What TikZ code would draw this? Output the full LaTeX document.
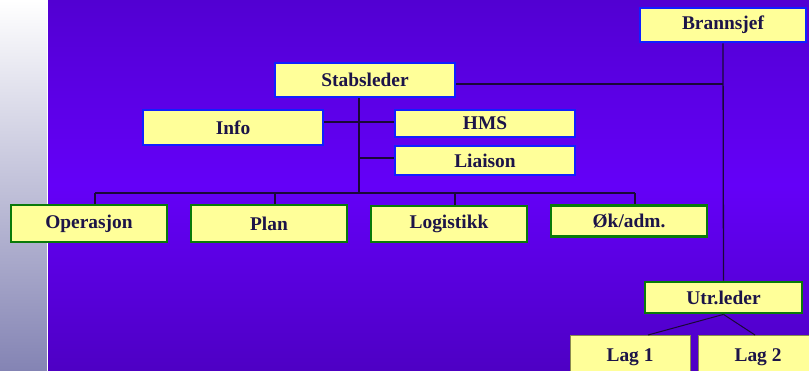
\documentclass[tikz,border=0pt]{standalone}
\usepackage{fontspec}
\setmainfont{Liberation Serif}
\usetikzlibrary{calc}
\definecolor{bgtop}{HTML}{5200D2}
\definecolor{bgmid}{HTML}{6400F8}
\definecolor{bgbot}{HTML}{4E00C4}
\definecolor{striptop}{HTML}{FFFFFF}
\definecolor{stripbot}{HTML}{8484B4}
\definecolor{boxfill}{HTML}{FFFF99}
\definecolor{bluebd}{HTML}{1020FF}
\definecolor{greenbd}{HTML}{0A7A0A}
\definecolor{lagbd}{HTML}{8A8A50}
\definecolor{txt}{HTML}{1C1448}
\definecolor{wire}{HTML}{1A0838}
\tikzset{
  x=1bp, y=-1bp,
  base/.style={rectangle, fill=boxfill, text=txt, inner sep=0pt,
    font=\fontsize{19.4bp}{22bp}\selectfont\bfseries},
  bluebox/.style={base, draw=bluebd, line width=2.6bp},
  greenbox/.style={base, draw=greenbd, line width=2.8bp},
  lagbox/.style={base, draw=lagbd, line width=1bp},
  wirestyle/.style={draw=wire, line width=1.3bp},
}
\begin{document}
\begin{tikzpicture}
\useasboundingbox (0,0) rectangle (809,370);
\clip (0,0) rectangle (809,370);
% background
\shade[top color=striptop, bottom color=stripbot] (0,0) rectangle (47,370);
\shade[top color=bgtop, bottom color=bgmid] (48,0) rectangle (809,185);
\shade[top color=bgmid, bottom color=bgbot] (48,185) rectangle (809,370);
\fill[white] (46.5,0) rectangle (48,370);

% nodes
\node[bluebox, minimum width=166bp, minimum height=34bp] (bran) at (723,25) {Brannsjef};
\node[bluebox, minimum width=180bp, minimum height=34bp] (stab) at (365,80) {Stabsleder};
\node[bluebox, minimum width=180bp, minimum height=35bp] (info) at (233,127.5) {Info};
\node[bluebox, minimum width=180bp, minimum height=27bp] (hms) at (485,123.5) {HMS};
\node[bluebox, minimum width=180bp, minimum height=29bp] (liai) at (485,160.5) {Liaison};
\node[greenbox, minimum width=156bp, minimum height=37bp] (oper) at (89,223.5) {Operasjon};
\node[greenbox, minimum width=156bp, minimum height=37bp] (plan) at (269,223.5) {Plan};
\node[greenbox, minimum width=156bp, minimum height=36bp] (logi) at (449,224) {Logistikk};
\node[greenbox, minimum width=156bp, minimum height=31bp] (okad) at (629,221) {Øk/adm.};
\node[greenbox, minimum width=157bp, minimum height=31bp] (utr) at (723.5,297.5) {Utr.leder};
\node[lagbox, minimum width=120bp, minimum height=43bp, text height=13bp, anchor=north] (lag1) at (630,335) {Lag 1};
\node[lagbox, minimum width=120bp, minimum height=43bp, text height=13bp, anchor=north] (lag2) at (758,335) {Lag 2};

% helper coordinates
\coordinate (spine) at (359,193);
\coordinate (b1) at (95,193);
\coordinate (b2) at (275,193);
\coordinate (b3) at (455,193);
\coordinate (b4) at (635,193);
\coordinate (l1) at ($(lag1.north)+(18,0)$);
\coordinate (l2) at ($(lag2.north)+(-3,0)$);

% connectors
\draw[wirestyle] (bran.south) -- (utr.north);
\draw[wirestyle] (stab.east |- 0,84) -- (bran.south |- 0,84);
\draw[wirestyle] (stab.south -| spine) -- (spine);
\draw[wirestyle] (info.east |- 0,122) -- (hms.west |- 0,122);
\draw[wirestyle] (liai.west |- 0,158) -- (spine |- 0,158);
\draw[wirestyle] (b1) -- (b4);
\draw[wirestyle] (b1) -- (b1 |- oper.north);
\draw[wirestyle] (b2) -- (b2 |- plan.north);
\draw[wirestyle] (b3) -- (b3 |- logi.north);
\draw[wirestyle] (b4) -- (b4 |- okad.north);
\draw[wirestyle, line width=1bp] (utr.south) -- (l1);
\draw[wirestyle, line width=1bp] (utr.south) -- (l2);
\end{tikzpicture}
\end{document}
